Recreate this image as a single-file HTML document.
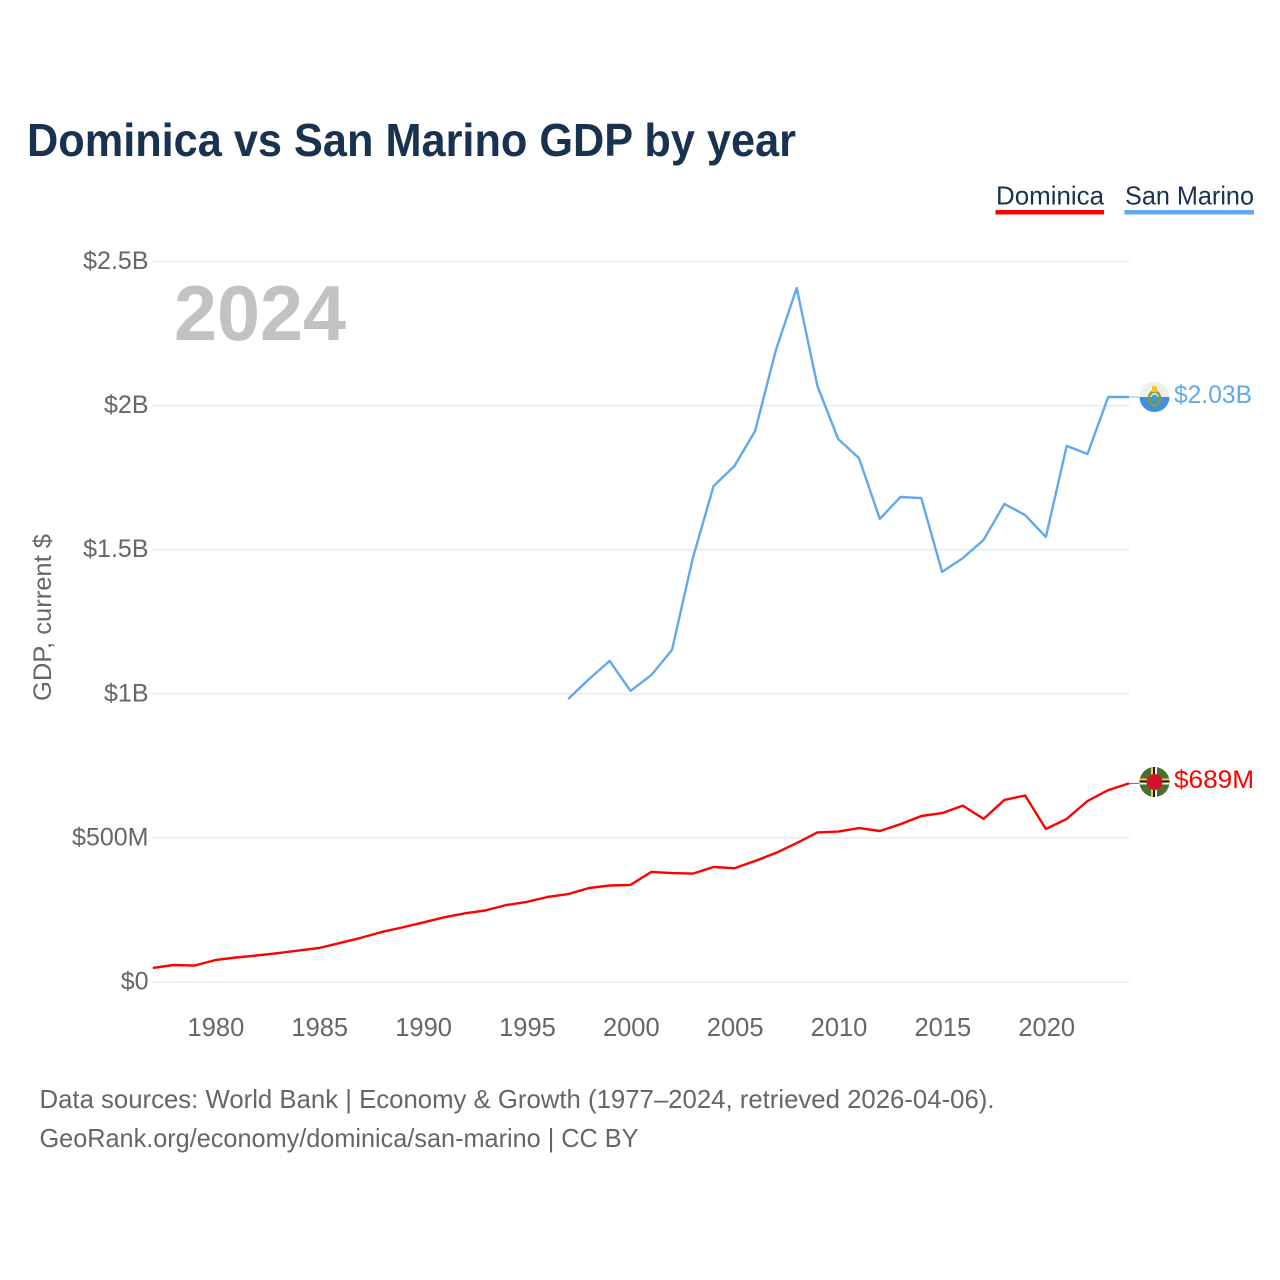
<!DOCTYPE html>
<html lang="en">
<head>
<meta charset="utf-8">
<title>Dominica vs San Marino GDP by year</title>
<style>
html,body{margin:0;padding:0;background:#fff}
svg{display:block}
text{font-family:"Liberation Sans",sans-serif}
</style>
</head>
<body>
<svg id="chart" xmlns="http://www.w3.org/2000/svg" width="1280" height="1280" viewBox="0 0 1280 1280">
  <defs>
    <clipPath id="flag-clip-sm"><circle cx="1154.5" cy="397" r="15"/></clipPath>
    <clipPath id="flag-clip-dm"><circle cx="1154.5" cy="782" r="15"/></clipPath>
  </defs>
  <rect x="0" y="0" width="1280" height="1280" fill="#ffffff"/>
  <text x="27" y="156" font-size="46" font-weight="700" fill="#18324f" textLength="769" lengthAdjust="spacingAndGlyphs">Dominica vs San Marino GDP by year</text>

  <g>
    <g>
      <text x="996" y="204.5" font-size="26" fill="#18324f" textLength="108" lengthAdjust="spacingAndGlyphs">Dominica</text>
      <rect x="995.5" y="210" width="108.5" height="4.5" fill="#ff0000"/>
    </g>
    <g>
      <text x="1125" y="204.5" font-size="26" fill="#18324f" textLength="129" lengthAdjust="spacingAndGlyphs">San Marino</text>
      <rect x="1124.5" y="210" width="129.5" height="4.5" fill="#62a8ee"/>
    </g>
  </g>

  <g id="grid"></g>
  <g id="yticks"></g>
  <g id="xticks"></g>

  <text transform="translate(51,701) rotate(-90)" x="0" y="0" font-size="25" fill="#666666" textLength="167" lengthAdjust="spacingAndGlyphs">GDP, current $</text>
  <text x="174" y="340" font-size="78" font-weight="700" fill="#c2c2c2" textLength="172" lengthAdjust="spacingAndGlyphs">2024</text>

  <g id="series"></g>

  <g clip-path="url(#flag-clip-sm)">
    <rect x="1139" y="382" width="31" height="15.5" fill="#efefef"/>
    <rect x="1139" y="397" width="31" height="15.5" fill="#3d8fe8"/>
    <ellipse cx="1154.5" cy="398.5" rx="5.5" ry="7" fill="none" stroke="#8f9a3c" stroke-width="2.5"/>
    <ellipse cx="1154.5" cy="398" rx="3" ry="3.5" fill="#3fa0c8"/>
    <rect x="1152" y="386" width="5" height="6" fill="#f2c230"/>
  </g>
  <g clip-path="url(#flag-clip-dm)">
    <rect x="1139" y="767" width="31" height="31" fill="#4a7030"/>
    <rect x="1139" y="778.5" width="31" height="2" fill="#f2d024"/>
    <rect x="1139" y="780.5" width="31" height="2" fill="#111111"/>
    <rect x="1139" y="782.5" width="31" height="2" fill="#f4f4f4"/>
    <rect x="1151" y="767" width="2" height="31" fill="#f2d024"/>
    <rect x="1153" y="767" width="2" height="31" fill="#111111"/>
    <rect x="1155" y="767" width="2" height="31" fill="#f4f4f4"/>
    <circle cx="1154.5" cy="782" r="8" fill="#d3122e"/>
  </g>

  <text id="label-sm" x="1174" y="403" font-size="25" fill="#62a8ee" textLength="78" lengthAdjust="spacingAndGlyphs">$2.03B</text>
  <text id="label-dm" x="1174" y="788" font-size="25" fill="#ff0000" textLength="80" lengthAdjust="spacingAndGlyphs">$689M</text>

  <text x="39.5" y="1108" font-size="26" fill="#666666" textLength="955" lengthAdjust="spacingAndGlyphs">Data sources: World Bank | Economy &amp; Growth (1977–2024, retrieved 2026-04-06).</text>
  <text x="39.5" y="1147" font-size="26" fill="#666666" textLength="599" lengthAdjust="spacingAndGlyphs">GeoRank.org/economy/dominica/san-marino | CC BY</text>
</svg>
<script>
const years = [1977,1978,1979,1980,1981,1982,1983,1984,1985,1986,1987,1988,1989,1990,1991,1992,1993,1994,1995,1996,1997,1998,1999,2000,2001,2002,2003,2004,2005,2006,2007,2008,2009,2010,2011,2012,2013,2014,2015,2016,2017,2018,2019,2020,2021,2022,2023,2024];
const dominicaGdp = [49,59,57,76,85,92,100,109,118,135,153,173,189,206,224,238,248,267,278,295,305,326,335,337,382,378,376,399,395,420,448,482,519,522,534,524,548,576,586,612,566,632,647,531,566,628,666,689];
const sanMarinoGdp = [null,null,null,null,null,null,null,null,null,null,null,null,null,null,null,null,null,null,null,null,982,1051,1114,1010,1065,1152,1471,1721,1790,1912,2193,2408,2068,1884,1818,1607,1683,1679,1423,1471,1534,1659,1620,1544,1860,1832,2030,2030];
const yTickValues = [0,500,1000,1500,2000,2500];
const yTickLabels = ['$0','$500M','$1B','$1.5B','$2B','$2.5B'];
const xTickYears = [1980,1985,1990,1995,2000,2005,2010,2015,2020];

const NS = 'http://www.w3.org/2000/svg';
function xScale(year){ return 152.8 + (year - 1977) * 20.77; }
function yScale(v){ return 982 - v * 0.2882; }
function mk(tag, attrs, parent){
  const el = document.createElementNS(NS, tag);
  for (const k in attrs) el.setAttribute(k, attrs[k]);
  parent.appendChild(el);
  return el;
}

const grid = document.getElementById('grid');
const yticks = document.getElementById('yticks');
yTickValues.forEach(function(v, i){
  const line = mk('line', {x1:152, x2:1129.5, y1:yScale(v), y2:yScale(v), stroke:'#e8e8e8', 'stroke-width':1.3}, grid);
  
  
  const t = mk('text', {x:148.5, y:yScale(v)+7.5, 'text-anchor':'end', 'font-size':25, fill:'#666666'}, yticks);
  
  
  t.textContent = yTickLabels[i];
});

const xticks = document.getElementById('xticks');
xTickYears.forEach(function(y){
  const t = mk('text', {x:xScale(y)+0.8, y:1036, 'text-anchor':'middle', 'font-size':25.5, fill:'#666666'}, xticks);
  
  
  t.textContent = y;
});

const series = document.getElementById('series');
function linePoints(values){
  const pts = [];
  values.forEach(function(v, i){
    if (v !== null) pts.push(xScale(years[i]).toFixed(1) + ',' + yScale(v).toFixed(1));
  });
  return pts.join(' ');
}
function lastOf(values){ return values[values.length - 1]; }

const connSm = mk('line', {x1:xScale(2024), x2:1139, y1:yScale(lastOf(sanMarinoGdp)), y2:yScale(lastOf(sanMarinoGdp)), stroke:'#62a8ee', 'stroke-width':1, opacity:0.8}, series);


const connDm = mk('line', {x1:xScale(2024), x2:1139, y1:yScale(lastOf(dominicaGdp)), y2:yScale(lastOf(dominicaGdp)), stroke:'#ff0000', 'stroke-width':1, opacity:0.8}, series);



const lineSm = mk('polyline', {points:linePoints(sanMarinoGdp), fill:'none', stroke:'#62a8ee', 'stroke-width':2.4, 'stroke-linejoin':'round'}, series);


const lineDm = mk('polyline', {points:linePoints(dominicaGdp), fill:'none', stroke:'#ff0000', 'stroke-width':2.4, 'stroke-linejoin':'round'}, series);


</script>
</body>
</html>
